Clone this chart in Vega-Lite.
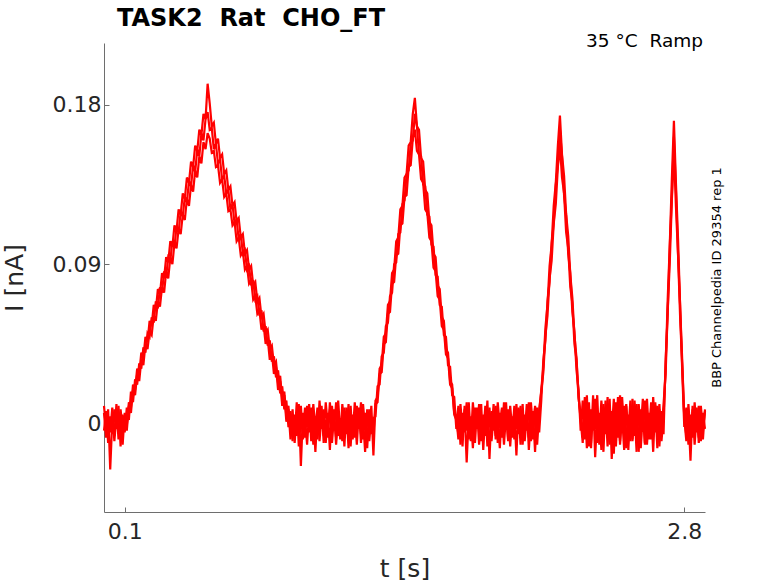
{
  "$schema": "https://vega.github.io/schema/vega-lite/v6.json",
  "width": 601,
  "height": 469,
  "autosize": {"type": "none"},
  "padding": {"left": 104, "top": 43, "right": 73, "bottom": 71},
  "background": "white",
  "config": {
    "view": {"stroke": null},
    "font": "DejaVu Sans",
    "axis": {
      "grid": false,
      "domainColor": "#6e6e6e",
      "tickColor": "#6e6e6e",
      "labelColor": "#262626",
      "titleColor": "#262626",
      "labelFont": "DejaVu Sans",
      "titleFont": "DejaVu Sans",
      "labelFontSize": 22,
      "titleFontSize": 25,
      "titleFontWeight": "normal",
      "tickSize": -5
    }
  },
  "data": {
    "values": [
      {"t":0.00,"a":0.006,"b":-0.004,"c":0.010},
      {"t":0.01,"a":-0.008,"b":0.007,"c":-0.003},
      {"t":0.02,"a":0.003,"b":-0.011,"c":0.008},
      {"t":0.03,"a":-0.005,"b":0.004,"c":-0.026},
      {"t":0.04,"a":0.009,"b":-0.006,"c":0.002},
      {"t":0.05,"a":-0.010,"b":0.008,"c":-0.007},
      {"t":0.06,"a":0.004,"b":-0.003,"c":0.011},
      {"t":0.07,"a":-0.006,"b":0.010,"c":-0.009},
      {"t":0.08,"a":0.008,"b":-0.013,"c":0.005},
      {"t":0.09,"a":-0.003,"b":0.005,"c":-0.012},
      {"t":0.10,"a":0.004,"b":-0.005,"c":0.006},
      {"t":0.11,"a":-0.001,"b":0.009,"c":-0.004},
      {"t":0.12,"a":0.012,"b":0.002,"c":0.010},
      {"t":0.13,"a":0.009,"b":0.018,"c":0.006},
      {"t":0.14,"a":0.022,"b":0.012,"c":0.019},
      {"t":0.15,"a":0.019,"b":0.025,"c":0.016},
      {"t":0.16,"a":0.031,"b":0.022,"c":0.028},
      {"t":0.17,"a":0.028,"b":0.034,"c":0.024},
      {"t":0.18,"a":0.040,"b":0.031,"c":0.036},
      {"t":0.19,"a":0.037,"b":0.043,"c":0.033},
      {"t":0.20,"a":0.049,"b":0.040,"c":0.045},
      {"t":0.21,"a":0.046,"b":0.051,"c":0.042},
      {"t":0.22,"a":0.058,"b":0.049,"c":0.052},
      {"t":0.23,"a":0.055,"b":0.060,"c":0.050},
      {"t":0.24,"a":0.067,"b":0.057,"c":0.061},
      {"t":0.25,"a":0.064,"b":0.069,"c":0.058},
      {"t":0.26,"a":0.076,"b":0.065,"c":0.069},
      {"t":0.27,"a":0.073,"b":0.077,"c":0.066},
      {"t":0.28,"a":0.085,"b":0.074,"c":0.077},
      {"t":0.29,"a":0.082,"b":0.086,"c":0.074},
      {"t":0.30,"a":0.094,"b":0.083,"c":0.086},
      {"t":0.31,"a":0.091,"b":0.094,"c":0.082},
      {"t":0.32,"a":0.103,"b":0.092,"c":0.094},
      {"t":0.33,"a":0.100,"b":0.103,"c":0.090},
      {"t":0.34,"a":0.112,"b":0.100,"c":0.102},
      {"t":0.35,"a":0.109,"b":0.111,"c":0.099},
      {"t":0.36,"a":0.121,"b":0.108,"c":0.110},
      {"t":0.37,"a":0.118,"b":0.120,"c":0.107},
      {"t":0.38,"a":0.130,"b":0.117,"c":0.118},
      {"t":0.39,"a":0.127,"b":0.128,"c":0.115},
      {"t":0.40,"a":0.139,"b":0.125,"c":0.127},
      {"t":0.41,"a":0.136,"b":0.137,"c":0.123},
      {"t":0.42,"a":0.148,"b":0.134,"c":0.135},
      {"t":0.43,"a":0.145,"b":0.146,"c":0.131},
      {"t":0.44,"a":0.157,"b":0.142,"c":0.143},
      {"t":0.45,"a":0.154,"b":0.155,"c":0.139},
      {"t":0.46,"a":0.166,"b":0.151,"c":0.151},
      {"t":0.47,"a":0.163,"b":0.164,"c":0.147},
      {"t":0.48,"a":0.175,"b":0.160,"c":0.159},
      {"t":0.49,"a":0.172,"b":0.172,"c":0.155},
      {"t":0.50,"a":0.192,"b":0.176,"c":0.164},
      {"t":0.51,"a":0.181,"b":0.166,"c":0.161},
      {"t":0.52,"a":0.168,"b":0.167,"c":0.153},
      {"t":0.53,"a":0.170,"b":0.155,"c":0.154},
      {"t":0.54,"a":0.158,"b":0.158,"c":0.145},
      {"t":0.55,"a":0.161,"b":0.147,"c":0.146},
      {"t":0.56,"a":0.150,"b":0.149,"c":0.136},
      {"t":0.57,"a":0.152,"b":0.138,"c":0.138},
      {"t":0.58,"a":0.141,"b":0.140,"c":0.128},
      {"t":0.59,"a":0.143,"b":0.130,"c":0.130},
      {"t":0.60,"a":0.132,"b":0.132,"c":0.120},
      {"t":0.61,"a":0.134,"b":0.121,"c":0.121},
      {"t":0.62,"a":0.123,"b":0.124,"c":0.112},
      {"t":0.63,"a":0.125,"b":0.113,"c":0.114},
      {"t":0.64,"a":0.114,"b":0.115,"c":0.103},
      {"t":0.65,"a":0.116,"b":0.104,"c":0.105},
      {"t":0.66,"a":0.105,"b":0.107,"c":0.095},
      {"t":0.67,"a":0.107,"b":0.096,"c":0.097},
      {"t":0.68,"a":0.096,"b":0.098,"c":0.087},
      {"t":0.69,"a":0.098,"b":0.087,"c":0.089},
      {"t":0.70,"a":0.087,"b":0.089,"c":0.079},
      {"t":0.71,"a":0.089,"b":0.078,"c":0.081},
      {"t":0.72,"a":0.078,"b":0.081,"c":0.070},
      {"t":0.73,"a":0.080,"b":0.070,"c":0.072},
      {"t":0.74,"a":0.069,"b":0.072,"c":0.062},
      {"t":0.75,"a":0.071,"b":0.061,"c":0.064},
      {"t":0.76,"a":0.060,"b":0.064,"c":0.053},
      {"t":0.77,"a":0.062,"b":0.052,"c":0.056},
      {"t":0.78,"a":0.051,"b":0.055,"c":0.045},
      {"t":0.79,"a":0.053,"b":0.044,"c":0.048},
      {"t":0.80,"a":0.042,"b":0.047,"c":0.036},
      {"t":0.81,"a":0.044,"b":0.035,"c":0.040},
      {"t":0.82,"a":0.033,"b":0.038,"c":0.028},
      {"t":0.83,"a":0.035,"b":0.026,"c":0.032},
      {"t":0.84,"a":0.023,"b":0.030,"c":0.019},
      {"t":0.85,"a":0.027,"b":0.017,"c":0.024},
      {"t":0.86,"a":0.014,"b":0.021,"c":0.010},
      {"t":0.87,"a":0.018,"b":0.008,"c":0.016},
      {"t":0.88,"a":0.004,"b":0.013,"c":0.001},
      {"t":0.89,"a":0.010,"b":-0.002,"c":0.008},
      {"t":0.90,"a":-0.006,"b":0.007,"c":-0.009},
      {"t":0.91,"a":0.008,"b":-0.010,"c":0.004},
      {"t":0.92,"a":-0.011,"b":0.005,"c":-0.008},
      {"t":0.93,"a":0.006,"b":-0.007,"c":0.012},
      {"t":0.94,"a":-0.004,"b":0.011,"c":-0.013},
      {"t":0.95,"a":0.010,"b":-0.024,"c":0.003},
      {"t":0.96,"a":-0.009,"b":0.006,"c":-0.005},
      {"t":0.97,"a":0.003,"b":-0.008,"c":0.009},
      {"t":0.98,"a":-0.012,"b":0.010,"c":-0.002},
      {"t":0.99,"a":0.007,"b":-0.005,"c":0.011},
      {"t":1.00,"a":-0.006,"b":0.009,"c":-0.010},
      {"t":1.01,"a":0.011,"b":-0.012,"c":0.005},
      {"t":1.02,"a":-0.003,"b":0.004,"c":-0.016},
      {"t":1.03,"a":0.009,"b":-0.009,"c":0.007},
      {"t":1.04,"a":-0.010,"b":0.013,"c":-0.004},
      {"t":1.05,"a":0.005,"b":-0.003,"c":0.010},
      {"t":1.06,"a":-0.007,"b":0.008,"c":-0.011},
      {"t":1.07,"a":0.012,"b":-0.011,"c":0.002},
      {"t":1.08,"a":-0.002,"b":0.006,"c":-0.008},
      {"t":1.09,"a":0.008,"b":-0.015,"c":0.012},
      {"t":1.10,"a":-0.011,"b":0.010,"c":-0.003},
      {"t":1.11,"a":0.004,"b":-0.004,"c":0.008},
      {"t":1.12,"a":-0.008,"b":0.012,"c":-0.012},
      {"t":1.13,"a":0.013,"b":-0.007,"c":0.004},
      {"t":1.14,"a":-0.005,"b":0.003,"c":-0.009},
      {"t":1.15,"a":0.006,"b":-0.010,"c":0.011},
      {"t":1.16,"a":-0.013,"b":0.009,"c":-0.002},
      {"t":1.17,"a":0.009,"b":-0.006,"c":0.007},
      {"t":1.18,"a":-0.004,"b":0.011,"c":-0.014},
      {"t":1.19,"a":0.010,"b":-0.013,"c":0.005},
      {"t":1.20,"a":-0.009,"b":0.005,"c":-0.007},
      {"t":1.21,"a":0.005,"b":-0.008,"c":0.012},
      {"t":1.22,"a":-0.012,"b":0.010,"c":-0.004},
      {"t":1.23,"a":0.008,"b":-0.003,"c":0.009},
      {"t":1.24,"a":-0.006,"b":0.012,"c":-0.011},
      {"t":1.25,"a":0.011,"b":-0.009,"c":0.003},
      {"t":1.26,"a":-0.003,"b":0.006,"c":-0.016},
      {"t":1.27,"a":0.007,"b":-0.014,"c":0.008},
      {"t":1.28,"a":-0.010,"b":0.008,"c":-0.005},
      {"t":1.29,"a":0.004,"b":-0.006,"c":0.010},
      {"t":1.30,"a":-0.007,"b":0.003,"c":-0.018},
      {"t":1.31,"a":0.013,"b":0.004,"c":0.011},
      {"t":1.32,"a":0.015,"b":0.021,"c":0.012},
      {"t":1.33,"a":0.031,"b":0.022,"c":0.028},
      {"t":1.34,"a":0.033,"b":0.038,"c":0.029},
      {"t":1.35,"a":0.049,"b":0.040,"c":0.045},
      {"t":1.36,"a":0.051,"b":0.055,"c":0.046},
      {"t":1.37,"a":0.067,"b":0.057,"c":0.062},
      {"t":1.38,"a":0.069,"b":0.072,"c":0.063},
      {"t":1.39,"a":0.085,"b":0.074,"c":0.079},
      {"t":1.40,"a":0.087,"b":0.090,"c":0.080},
      {"t":1.41,"a":0.103,"b":0.091,"c":0.095},
      {"t":1.42,"a":0.105,"b":0.107,"c":0.096},
      {"t":1.43,"a":0.121,"b":0.108,"c":0.112},
      {"t":1.44,"a":0.123,"b":0.124,"c":0.113},
      {"t":1.45,"a":0.139,"b":0.126,"c":0.128},
      {"t":1.46,"a":0.141,"b":0.141,"c":0.129},
      {"t":1.47,"a":0.157,"b":0.143,"c":0.145},
      {"t":1.48,"a":0.159,"b":0.158,"c":0.146},
      {"t":1.49,"a":0.175,"b":0.160,"c":0.161},
      {"t":1.50,"a":0.184,"b":0.175,"c":0.166},
      {"t":1.51,"a":0.168,"b":0.168,"c":0.154},
      {"t":1.52,"a":0.166,"b":0.152,"c":0.152},
      {"t":1.53,"a":0.150,"b":0.151,"c":0.138},
      {"t":1.54,"a":0.148,"b":0.135,"c":0.136},
      {"t":1.55,"a":0.132,"b":0.134,"c":0.121},
      {"t":1.56,"a":0.130,"b":0.118,"c":0.119},
      {"t":1.57,"a":0.114,"b":0.117,"c":0.105},
      {"t":1.58,"a":0.112,"b":0.101,"c":0.103},
      {"t":1.59,"a":0.096,"b":0.100,"c":0.088},
      {"t":1.60,"a":0.094,"b":0.084,"c":0.086},
      {"t":1.61,"a":0.078,"b":0.083,"c":0.072},
      {"t":1.62,"a":0.076,"b":0.067,"c":0.070},
      {"t":1.63,"a":0.060,"b":0.066,"c":0.055},
      {"t":1.64,"a":0.058,"b":0.050,"c":0.053},
      {"t":1.65,"a":0.042,"b":0.049,"c":0.039},
      {"t":1.66,"a":0.040,"b":0.033,"c":0.037},
      {"t":1.67,"a":0.024,"b":0.032,"c":0.022},
      {"t":1.68,"a":0.022,"b":0.016,"c":0.020},
      {"t":1.69,"a":0.006,"b":0.015,"c":0.005},
      {"t":1.70,"a":0.004,"b":-0.003,"c":0.002},
      {"t":1.71,"a":-0.009,"b":0.010,"c":-0.006},
      {"t":1.72,"a":0.007,"b":-0.012,"c":0.011},
      {"t":1.73,"a":-0.013,"b":0.006,"c":-0.004},
      {"t":1.74,"a":0.010,"b":-0.005,"c":0.008},
      {"t":1.75,"a":-0.004,"b":0.012,"c":-0.022},
      {"t":1.76,"a":0.012,"b":-0.009,"c":0.005},
      {"t":1.77,"a":-0.008,"b":0.004,"c":-0.010},
      {"t":1.78,"a":0.005,"b":-0.014,"c":0.012},
      {"t":1.79,"a":-0.011,"b":0.009,"c":-0.003},
      {"t":1.80,"a":0.008,"b":-0.003,"c":0.009},
      {"t":1.81,"a":-0.005,"b":0.011,"c":-0.012},
      {"t":1.82,"a":0.011,"b":-0.010,"c":0.004},
      {"t":1.83,"a":-0.015,"b":0.005,"c":-0.007},
      {"t":1.84,"a":0.006,"b":-0.007,"c":0.010},
      {"t":1.85,"a":-0.003,"b":0.013,"c":-0.013},
      {"t":1.86,"a":0.009,"b":-0.020,"c":0.006},
      {"t":1.87,"a":-0.010,"b":0.007,"c":-0.005},
      {"t":1.88,"a":0.004,"b":-0.004,"c":0.011},
      {"t":1.89,"a":-0.007,"b":0.010,"c":-0.009},
      {"t":1.90,"a":0.012,"b":-0.011,"c":0.003},
      {"t":1.91,"a":-0.002,"b":0.006,"c":-0.014},
      {"t":1.92,"a":0.008,"b":-0.008,"c":0.009},
      {"t":1.93,"a":-0.012,"b":0.012,"c":-0.004},
      {"t":1.94,"a":0.005,"b":-0.003,"c":0.012},
      {"t":1.95,"a":-0.009,"b":0.008,"c":-0.010},
      {"t":1.96,"a":0.010,"b":-0.013,"c":0.005},
      {"t":1.97,"a":-0.004,"b":0.004,"c":-0.008},
      {"t":1.98,"a":0.007,"b":-0.009,"c":0.010},
      {"t":1.99,"a":-0.018,"b":0.011,"c":-0.003},
      {"t":2.00,"a":0.009,"b":-0.006,"c":0.008},
      {"t":2.01,"a":-0.006,"b":0.010,"c":-0.012},
      {"t":2.02,"a":0.011,"b":-0.012,"c":0.006},
      {"t":2.03,"a":-0.010,"b":0.005,"c":-0.006},
      {"t":2.04,"a":0.004,"b":-0.004,"c":0.011},
      {"t":2.05,"a":-0.008,"b":0.012,"c":-0.015},
      {"t":2.06,"a":0.012,"b":-0.010,"c":0.004},
      {"t":2.07,"a":-0.003,"b":0.007,"c":-0.009},
      {"t":2.08,"a":0.009,"b":-0.016,"c":0.010},
      {"t":2.09,"a":-0.012,"b":0.009,"c":-0.004},
      {"t":2.10,"a":0.006,"b":-0.005,"c":0.008},
      {"t":2.11,"a":0.019,"b":0.013,"c":0.018},
      {"t":2.12,"a":0.032,"b":0.036,"c":0.029},
      {"t":2.13,"a":0.054,"b":0.047,"c":0.050},
      {"t":2.14,"a":0.067,"b":0.069,"c":0.061},
      {"t":2.15,"a":0.089,"b":0.080,"c":0.082},
      {"t":2.16,"a":0.101,"b":0.102,"c":0.092},
      {"t":2.17,"a":0.123,"b":0.113,"c":0.113},
      {"t":2.18,"a":0.136,"b":0.135,"c":0.124},
      {"t":2.19,"a":0.157,"b":0.146,"c":0.145},
      {"t":2.20,"a":0.174,"b":0.166,"c":0.157},
      {"t":2.21,"a":0.152,"b":0.151,"c":0.139},
      {"t":2.22,"a":0.140,"b":0.129,"c":0.130},
      {"t":2.23,"a":0.118,"b":0.118,"c":0.108},
      {"t":2.24,"a":0.106,"b":0.096,"c":0.099},
      {"t":2.25,"a":0.084,"b":0.085,"c":0.077},
      {"t":2.26,"a":0.071,"b":0.063,"c":0.068},
      {"t":2.27,"a":0.050,"b":0.052,"c":0.045},
      {"t":2.28,"a":0.037,"b":0.030,"c":0.036},
      {"t":2.29,"a":0.015,"b":0.019,"c":0.014},
      {"t":2.30,"a":0.002,"b":-0.004,"c":0.005},
      {"t":2.31,"a":-0.011,"b":0.013,"c":-0.008},
      {"t":2.32,"a":0.015,"b":-0.009,"c":0.012},
      {"t":2.33,"a":-0.006,"b":0.016,"c":-0.014},
      {"t":2.34,"a":0.012,"b":-0.013,"c":0.007},
      {"t":2.35,"a":-0.014,"b":0.008,"c":-0.011},
      {"t":2.36,"a":0.009,"b":-0.004,"c":0.016},
      {"t":2.37,"a":-0.003,"b":0.014,"c":-0.019},
      {"t":2.38,"a":0.016,"b":-0.011,"c":0.005},
      {"t":2.39,"a":-0.012,"b":0.006,"c":-0.008},
      {"t":2.40,"a":0.006,"b":-0.015,"c":0.013},
      {"t":2.41,"a":-0.016,"b":0.011,"c":-0.003},
      {"t":2.42,"a":0.013,"b":-0.006,"c":0.009},
      {"t":2.43,"a":-0.008,"b":0.015,"c":-0.013},
      {"t":2.44,"a":0.010,"b":-0.012,"c":0.014},
      {"t":2.45,"a":-0.005,"b":0.007,"c":-0.020},
      {"t":2.46,"a":0.014,"b":-0.017,"c":0.006},
      {"t":2.47,"a":-0.013,"b":0.012,"c":-0.007},
      {"t":2.48,"a":0.007,"b":-0.008,"c":0.015},
      {"t":2.49,"a":-0.010,"b":0.016,"c":-0.012},
      {"t":2.50,"a":0.015,"b":-0.005,"c":0.004},
      {"t":2.51,"a":-0.004,"b":0.010,"c":-0.015},
      {"t":2.52,"a":0.011,"b":-0.014,"c":0.010},
      {"t":2.53,"a":-0.015,"b":0.005,"c":-0.005},
      {"t":2.54,"a":0.008,"b":-0.010,"c":0.013},
      {"t":2.55,"a":-0.009,"b":0.014,"c":-0.010},
      {"t":2.56,"a":0.013,"b":-0.007,"c":0.007},
      {"t":2.57,"a":-0.006,"b":0.011,"c":-0.016},
      {"t":2.58,"a":0.010,"b":-0.016,"c":0.011},
      {"t":2.59,"a":-0.014,"b":0.008,"c":-0.004},
      {"t":2.60,"a":0.005,"b":-0.003,"c":0.014},
      {"t":2.61,"a":-0.011,"b":0.013,"c":-0.012},
      {"t":2.62,"a":0.014,"b":-0.012,"c":0.005},
      {"t":2.63,"a":-0.007,"b":0.006,"c":-0.009},
      {"t":2.64,"a":0.009,"b":-0.009,"c":0.012},
      {"t":2.65,"a":-0.016,"b":0.015,"c":-0.006},
      {"t":2.66,"a":0.012,"b":-0.005,"c":0.010},
      {"t":2.67,"a":-0.005,"b":0.010,"c":-0.014},
      {"t":2.68,"a":0.011,"b":-0.013,"c":0.008},
      {"t":2.69,"a":-0.010,"b":0.007,"c":-0.005},
      {"t":2.70,"a":0.004,"b":-0.006,"c":0.011},
      {"t":2.71,"a":0.032,"b":0.036,"c":0.028},
      {"t":2.72,"a":0.070,"b":0.062,"c":0.064},
      {"t":2.73,"a":0.101,"b":0.100,"c":0.091},
      {"t":2.74,"a":0.138,"b":0.128,"c":0.126},
      {"t":2.75,"a":0.171,"b":0.162,"c":0.154},
      {"t":2.76,"a":0.135,"b":0.131,"c":0.122},
      {"t":2.77,"a":0.104,"b":0.096,"c":0.095},
      {"t":2.78,"a":0.066,"b":0.067,"c":0.060},
      {"t":2.79,"a":0.036,"b":0.030,"c":0.033},
      {"t":2.80,"a":0.003,"b":-0.002,"c":0.004},
      {"t":2.81,"a":-0.010,"b":0.009,"c":-0.007},
      {"t":2.82,"a":0.011,"b":-0.012,"c":0.006},
      {"t":2.83,"a":-0.006,"b":0.005,"c":-0.021},
      {"t":2.84,"a":0.008,"b":-0.008,"c":0.010},
      {"t":2.85,"a":-0.012,"b":0.012,"c":-0.004},
      {"t":2.86,"a":0.005,"b":-0.005,"c":0.009},
      {"t":2.87,"a":-0.008,"b":0.010,"c":-0.011},
      {"t":2.88,"a":0.010,"b":-0.010,"c":0.004},
      {"t":2.89,"a":-0.004,"b":0.006,"c":-0.009},
      {"t":2.90,"a":0.007,"b":-0.003,"c":0.008}
    ]
  },
  "layer": [
    {
      "transform": [{"fold": ["a", "b", "c"], "as": ["rep", "I"]}],
      "mark": {"type": "line", "color": "#ff0000", "strokeWidth": 2.2, "clip": false},
      "encoding": {
        "x": {
          "field": "t",
          "type": "quantitative",
          "scale": {"domain": [0, 2.9], "nice": false, "zero": false},
          "axis": {"values": [0.1, 2.8], "format": "~g", "title": "t [s]", "labelPadding": 14, "titlePadding": 14}
        },
        "y": {
          "field": "I",
          "type": "quantitative",
          "scale": {"domain": [-0.05, 0.215], "nice": false, "zero": false},
          "axis": {"values": [0, 0.09, 0.18], "format": "~g", "title": "I [nA]", "labelPadding": 8, "titlePadding": 25}
        },
        "detail": {"field": "rep"}
      }
    },
    {
      "data": {"values": [{"label": "TASK2\u00a0 Rat\u00a0 CHO_FT", "t": 0, "I": 0.215}]},
      "mark": {"type": "text", "align": "left", "baseline": "alphabetic", "dx": 13, "dy": -17, "font": "DejaVu Sans", "fontSize": 24, "fontWeight": "bold", "color": "black"},
      "encoding": {
        "x": {"field": "t", "type": "quantitative"},
        "y": {"field": "I", "type": "quantitative"},
        "text": {"field": "label"}
      }
    },
    {
      "data": {"values": [{"label": "35 °C\u00a0 Ramp", "t": 2.9, "I": 0.215}]},
      "mark": {"type": "text", "align": "right", "baseline": "alphabetic", "dx": -2, "dy": 4, "font": "DejaVu Sans", "fontSize": 18.5, "color": "black"},
      "encoding": {
        "x": {"field": "t", "type": "quantitative"},
        "y": {"field": "I", "type": "quantitative"},
        "text": {"field": "label"}
      }
    },
    {
      "data": {"values": [{"label": "BBP Channelpedia ID 29354 rep 1", "t": 2.958, "I": 0.0825}]},
      "mark": {"type": "text", "align": "center", "baseline": "middle", "angle": 270, "font": "DejaVu Sans", "fontSize": 13, "color": "black"},
      "encoding": {
        "x": {"field": "t", "type": "quantitative"},
        "y": {"field": "I", "type": "quantitative"},
        "text": {"field": "label"}
      }
    }
  ]
}
